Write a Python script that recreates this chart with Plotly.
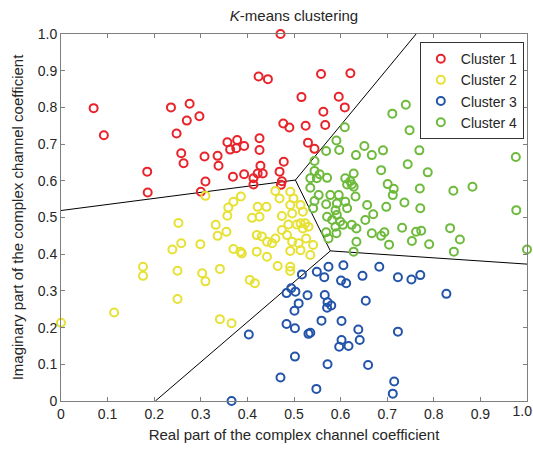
import plotly.graph_objects as go

# ---- data ----
cluster1_x = [0.070, 0.092, 0.236, 0.276, 0.270, 0.297, 0.248, 0.258, 0.263, 0.308,
              0.336, 0.338, 0.357, 0.363, 0.378, 0.393, 0.376, 0.426, 0.426, 0.471,
              0.424, 0.444, 0.558, 0.621, 0.516, 0.596, 0.609, 0.563, 0.477, 0.490,
              0.525, 0.567, 0.530, 0.544, 0.185, 0.186, 0.310, 0.300, 0.369, 0.478,
              0.428, 0.469, 0.422, 0.433, 0.413, 0.393, 0.413, 0.474, 0.472]
cluster1_y = [0.798, 0.724, 0.800, 0.810, 0.764, 0.776, 0.729, 0.675, 0.648, 0.666,
              0.668, 0.641, 0.705, 0.685, 0.711, 0.695, 0.689, 0.716, 0.684, 1.000,
              0.884, 0.877, 0.891, 0.893, 0.828, 0.829, 0.800, 0.788, 0.756, 0.745,
              0.750, 0.752, 0.704, 0.687, 0.625, 0.568, 0.598, 0.570, 0.611, 0.652,
              0.641, 0.625, 0.620, 0.620, 0.607, 0.618, 0.590, 0.599, 0.589]

cluster2_x = [0.310, 0.359, 0.357, 0.252, 0.332, 0.336, 0.355, 0.258, 0.239, 0.299,
              0.370, 0.176, 0.176, 0.250, 0.303, 0.310, 0.341, 0.250, 0.114, 0.000,
              0.341, 0.366, 0.405, 0.416, 0.465, 0.492, 0.492, 0.460, 0.469, 0.492,
              0.499, 0.514, 0.386, 0.370, 0.422, 0.441, 0.492, 0.426, 0.410, 0.474,
              0.496, 0.519, 0.514, 0.524, 0.506, 0.488, 0.474, 0.531, 0.519, 0.420,
              0.431, 0.442, 0.453, 0.460, 0.485, 0.496, 0.510, 0.526, 0.541, 0.385,
              0.388, 0.420, 0.442, 0.492, 0.514, 0.535]
cluster2_y = [0.559, 0.527, 0.505, 0.485, 0.480, 0.450, 0.461, 0.430, 0.413, 0.427,
              0.414, 0.366, 0.341, 0.355, 0.348, 0.326, 0.360, 0.278, 0.241, 0.213,
              0.223, 0.212, 0.330, 0.321, 0.368, 0.366, 0.354, 0.572, 0.552, 0.570,
              0.552, 0.534, 0.557, 0.543, 0.529, 0.529, 0.534, 0.502, 0.499, 0.504,
              0.511, 0.516, 0.484, 0.484, 0.481, 0.481, 0.466, 0.475, 0.470, 0.452,
              0.448, 0.434, 0.430, 0.443, 0.452, 0.434, 0.430, 0.443, 0.425, 0.407,
              0.402, 0.407, 0.393, 0.409, 0.411, 0.398]

cluster3_x = [0.366, 0.403, 0.484, 0.494, 0.503, 0.529, 0.510, 0.501, 0.484, 0.502,
              0.531, 0.535, 0.502, 0.471, 0.548, 0.572, 0.559, 0.566, 0.572, 0.571,
              0.580, 0.602, 0.602, 0.597, 0.617, 0.641, 0.638, 0.654, 0.659, 0.647,
              0.601, 0.612, 0.565, 0.549, 0.517, 0.574, 0.606, 0.683, 0.723, 0.723,
              0.715, 0.712, 0.752, 0.771, 0.827]
cluster3_y = [0.000, 0.181, 0.294, 0.307, 0.298, 0.288, 0.266, 0.246, 0.210, 0.198,
              0.183, 0.186, 0.121, 0.064, 0.033, 0.100, 0.219, 0.289, 0.269, 0.254,
              0.260, 0.218, 0.166, 0.148, 0.150, 0.166, 0.195, 0.273, 0.098, 0.341,
              0.328, 0.321, 0.337, 0.352, 0.345, 0.366, 0.370, 0.366, 0.337, 0.189,
              0.053, 0.020, 0.331, 0.343, 0.292]

cluster4_x = [0.609, 0.591, 0.711, 0.569, 0.597, 0.651, 0.633, 0.667, 0.691, 0.740,
              0.828, 0.748, 0.769, 0.976, 0.744, 0.787, 0.687, 0.701, 0.714, 0.712,
              0.770, 0.842, 0.883, 0.698, 0.737, 0.771, 0.977, 0.694, 0.687, 0.732,
              0.762, 0.773, 0.835, 0.704, 0.753, 0.790, 0.856, 0.843, 1.000, 0.544,
              0.544, 0.555, 0.549, 0.535, 0.571, 0.628, 0.610, 0.621, 0.614, 0.624,
              0.628, 0.535, 0.553, 0.578, 0.596, 0.632, 0.544, 0.569, 0.592, 0.610,
              0.614, 0.589, 0.541, 0.657, 0.571, 0.592, 0.582, 0.599, 0.605, 0.624,
              0.653, 0.670, 0.589, 0.569, 0.591, 0.634, 0.667, 0.574, 0.634, 0.628]
cluster4_y = [0.746, 0.710, 0.783, 0.681, 0.684, 0.695, 0.670, 0.670, 0.683, 0.807,
              0.766, 0.738, 0.683, 0.665, 0.645, 0.623, 0.629, 0.591, 0.578, 0.561,
              0.579, 0.573, 0.584, 0.529, 0.541, 0.525, 0.520, 0.460, 0.450, 0.472,
              0.461, 0.464, 0.471, 0.426, 0.436, 0.427, 0.440, 0.407, 0.413, 0.654,
              0.627, 0.618, 0.607, 0.607, 0.608, 0.620, 0.607, 0.599, 0.590, 0.590,
              0.584, 0.581, 0.561, 0.561, 0.561, 0.557, 0.545, 0.536, 0.538, 0.543,
              0.525, 0.520, 0.525, 0.534, 0.502, 0.507, 0.493, 0.489, 0.480, 0.480,
              0.493, 0.509, 0.475, 0.460, 0.457, 0.470, 0.457, 0.443, 0.434, 0.407]

# Voronoi boundary segments (None separates segments)
boundary_x = [0.000, 0.503, 0.762, None, 0.503, 0.578, 1.000, None, 0.578, 0.2025]
boundary_y = [0.519, 0.602, 1.000, None, 0.602, 0.409, 0.373, None, 0.409, 0.000]

cluster_names = ["Cluster 1", "Cluster 2", "Cluster 3", "Cluster 4"]
tick_vals = [0, 0.1, 0.2, 0.3, 0.4, 0.5, 0.6, 0.7, 0.8, 0.9, 1.0]
x_tick_text = ["0", "0.1", "0.2", "0.3", "0.4", "0.5", "0.6", "0.7", "0.8", "0.9", ""]
x_last_tick_val = [1.0]
x_last_tick_text = ["1.0"]
y_tick_text = ["0", "0.1", "0.2", "0.3", "0.4", "0.5", "0.6", "0.7", "0.8", "0.9", "1.0"]

colors = ["#E8232A", "#E6E133", "#2354AA", "#6EBA3C"]
FONT = "Liberation Sans, Arial, sans-serif"
TICKFONT = dict(family=FONT, size=14, color="#262626")

fig = go.Figure()

fig.add_trace(go.Scatter(x=boundary_x, y=boundary_y, mode="lines",
                         line=dict(color="black", width=1), showlegend=False,
                         hoverinfo="skip", cliponaxis=True))

for name, xs, ys, col in zip(cluster_names,
                             [cluster1_x, cluster2_x, cluster3_x, cluster4_x],
                             [cluster1_y, cluster2_y, cluster3_y, cluster4_y],
                             colors):
    fig.add_trace(go.Scatter(x=xs, y=ys, mode="markers", name=name,
                             marker=dict(symbol="circle-open", size=8,
                                         color=col, line=dict(color=col, width=2)),
                             cliponaxis=False))

# empty helper trace so the overlay axis carrying the last x label is drawn
fig.add_trace(go.Scatter(x=[], y=[], xaxis="x2", showlegend=False, hoverinfo="skip"))

axis_common = dict(range=[0, 1], showgrid=False, zeroline=False, showline=True,
                   mirror="ticks", linecolor="#7f7f7f", linewidth=1,
                   ticks="inside", ticklen=4, tickcolor="#7f7f7f",
                   automargin=False, tickfont=TICKFONT)

fig.update_layout(
    width=533, height=451,
    margin=dict(l=61, r=6, t=34, b=50),
    paper_bgcolor="white", plot_bgcolor="white",
    font=dict(family=FONT, color="#262626"),
    title=dict(text="<i>K</i>-means clustering", x=0.5, xref="paper",
               xanchor="center", y=1 - 16 / 451, yref="container", yanchor="middle",
               automargin=False,
               font=dict(family=FONT, size=15, color="#262626")),
    xaxis=dict(axis_common, tickvals=tick_vals, ticktext=x_tick_text,
               title=dict(text="Real part of the complex channel coefficient",
                          font=dict(family=FONT, size=15), standoff=8)),
    xaxis2=dict(range=[0, 1], overlaying="x", anchor="y", side="bottom",
                showgrid=False, zeroline=False, showline=False, ticks="",
                tickvals=x_last_tick_val, ticktext=x_last_tick_text,
                ticklabelposition="outside left", ticklabelshift=5,
                automargin=False, tickfont=TICKFONT),
    yaxis=dict(axis_common, tickvals=tick_vals, ticktext=y_tick_text,
               title=dict(text="Imaginary part of the complex channel coefficient",
                          font=dict(family=FONT, size=15), standoff=10)),
    legend=dict(x=0.77, y=0.978, xanchor="left", yanchor="top",
                bgcolor="white", bordercolor="#333333", borderwidth=1,
                font=dict(family=FONT, size=14, color="#262626"),
                itemwidth=30, tracegroupgap=0),
    showlegend=True,
)

fig.write_html("out.html", config={"displayModeBar": False},
               post_script="document.body.style.margin='0';document.body.style.overflow='hidden';")
